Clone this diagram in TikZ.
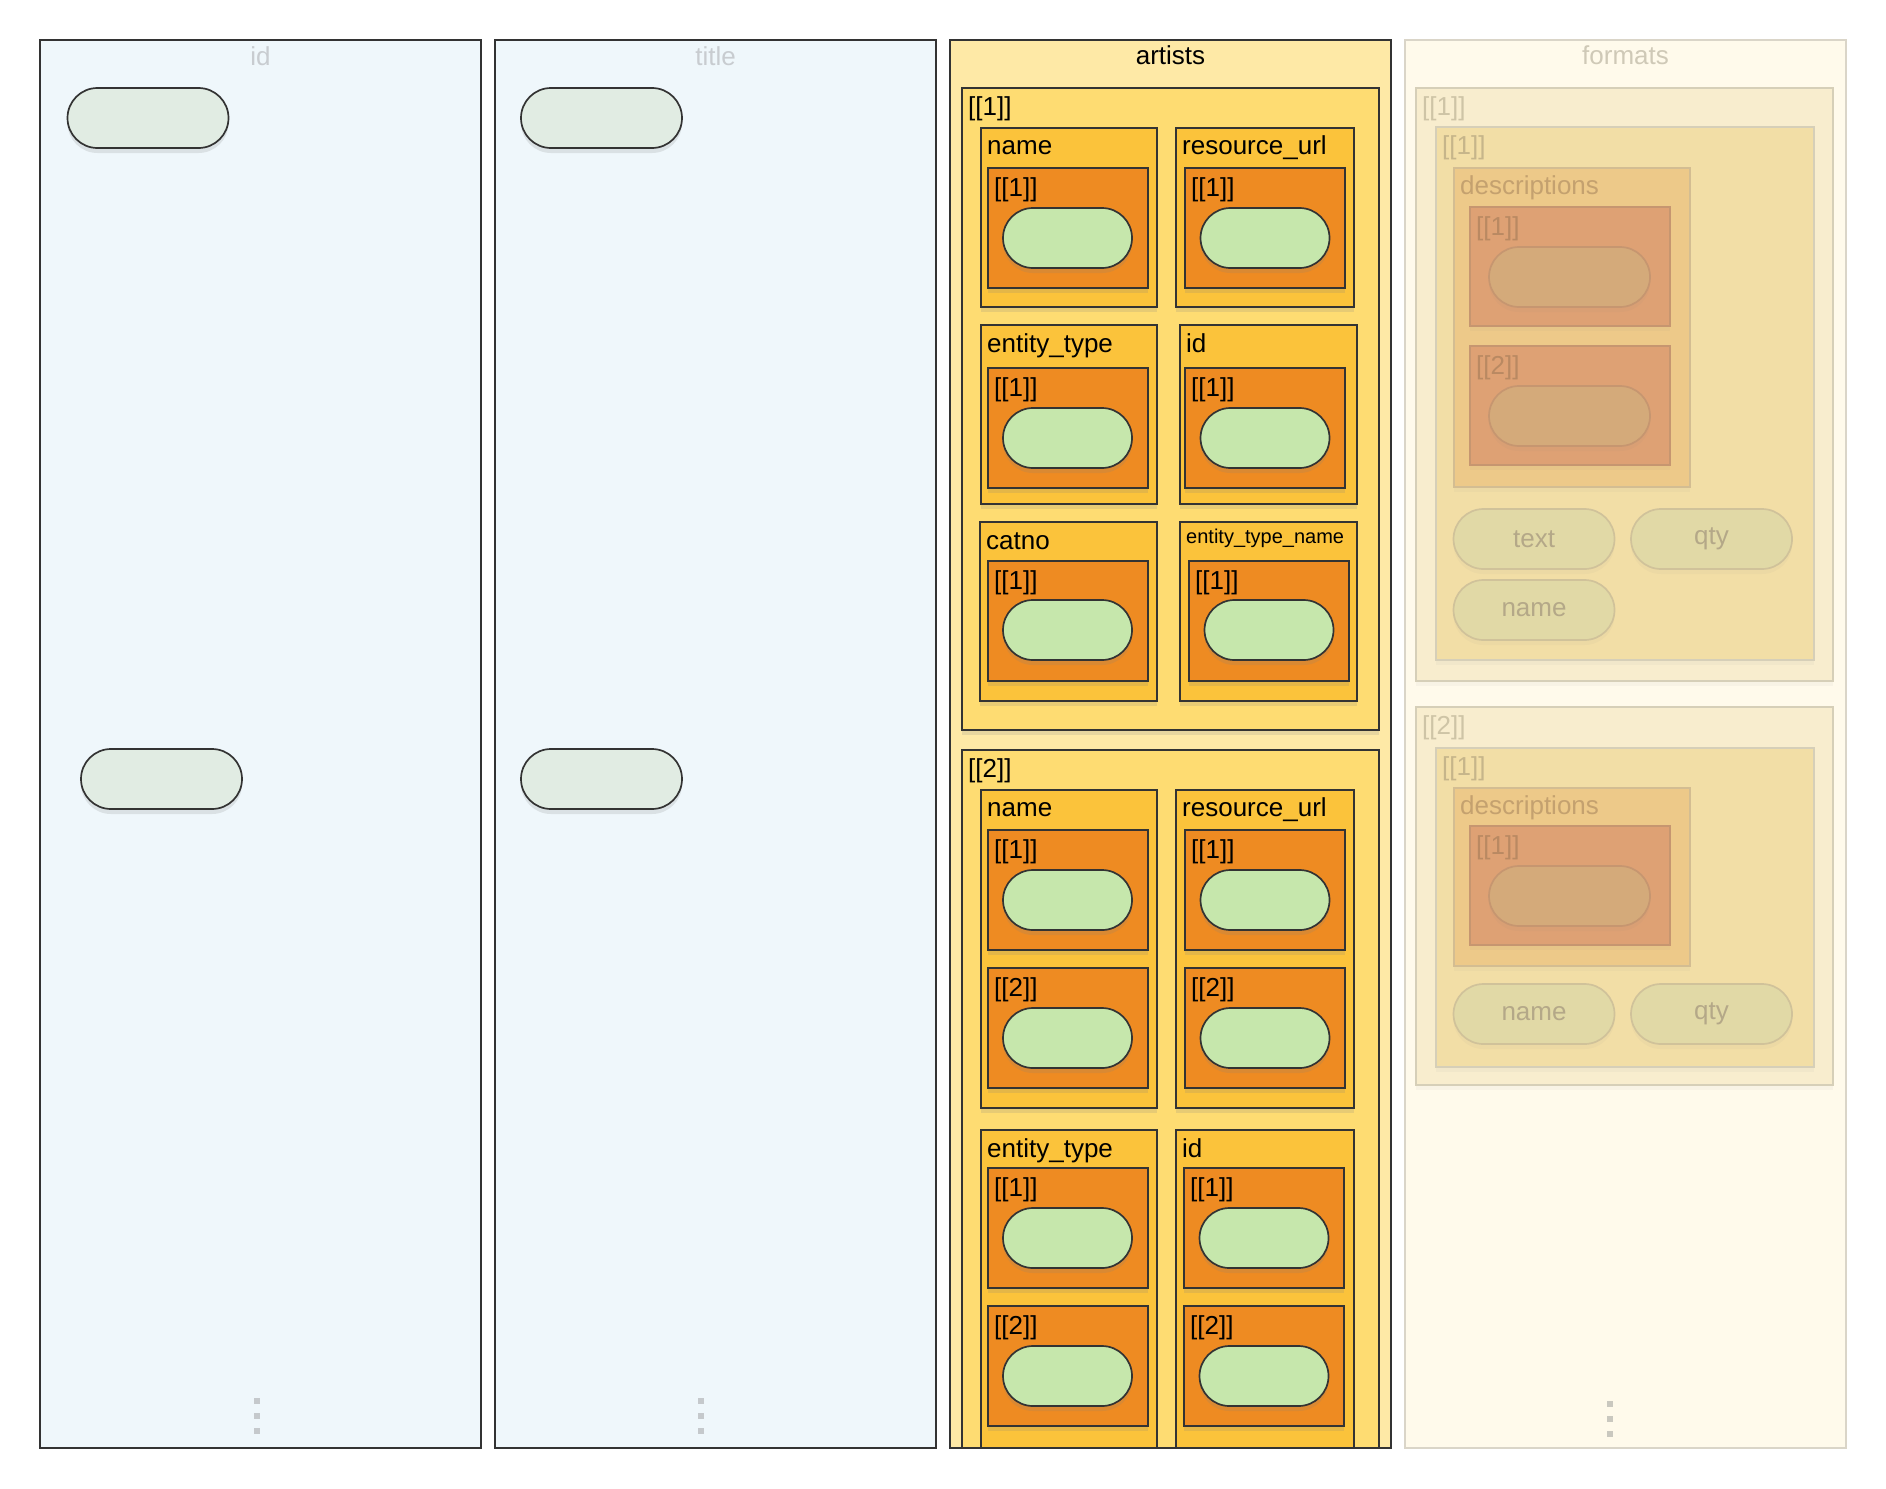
\documentclass[tikz,border=0pt]{standalone}
\usepackage{fontspec}
\setmainfont{Liberation Sans}
\usetikzlibrary{shapes.misc,shadows}

\definecolor{linec}{HTML}{333333}
\definecolor{idbg}{HTML}{EFF7FB}
\definecolor{idpill}{HTML}{E1ECE3}
\definecolor{idtxt}{HTML}{C8CCD0}
\definecolor{dotc}{HTML}{C5C9CC}
\definecolor{artbg}{HTML}{FEE9A6}
\definecolor{lst}{HTML}{FEDC72}
\definecolor{fld}{HTML}{FBC33B}
\definecolor{elt}{HTML}{EE8B22}
\definecolor{leaf}{HTML}{C6E7AC}
\definecolor{fmbg}{HTML}{FFFAEB}
\definecolor{fmline}{HTML}{DAD5C8}
\definecolor{fmlst}{HTML}{F8EDCE}
\definecolor{fmlstb}{HTML}{F2DEA6}
\definecolor{fmfld}{HTML}{EDC989}
\definecolor{fmelt}{HTML}{DEA174}
\definecolor{fmleaf}{HTML}{D4AA7A}
\definecolor{fmpill}{HTML}{E1D9A6}
\definecolor{fmba}{HTML}{D6CFB8}
\definecolor{fmbb}{HTML}{D3BD92}
\definecolor{fmbc}{HTML}{C69670}
\definecolor{fmbd}{HTML}{D0C29A}
\definecolor{fmta}{HTML}{CFC9B7}
\definecolor{fmtb}{HTML}{CEC4A6}
\definecolor{fmtc}{HTML}{C6B58A}
\definecolor{fmtd}{HTML}{C4A16F}
\definecolor{fmte}{HTML}{B98962}
\definecolor{fmtf}{HTML}{B4A888}
\definecolor{fmdot}{HTML}{CAC8BF}

\begin{document}
\begin{tikzpicture}[x=1pt,y=-1pt,
  col/.style={draw=linec,line width=1.4pt},
  bx/.style={draw=linec,line width=1.7pt},
  shd/.style={drop shadow={shadow xshift=0pt,shadow yshift=-5pt,opacity=.18}},
  shf/.style={drop shadow={shadow xshift=0pt,shadow yshift=-5pt,opacity=.05}},
  pill/.style={rounded rectangle,draw=linec,line width=1.7pt,minimum width=161pt,minimum height=60pt,inner sep=0pt,font=\fontsize{26}{30}\selectfont},
  lab/.style={anchor=base west,inner sep=0pt,font=\fontsize{26}{30}\selectfont},
  labs/.style={anchor=base west,inner sep=0pt,font=\fontsize{20}{24}\selectfont},
  ttl/.style={anchor=base,inner sep=0pt,font=\fontsize{26}{30}\selectfont},
  dotbox/.style={fill=dotc,minimum size=6pt,inner sep=0pt}]
\useasboundingbox (0,0) rectangle (1886,1488);

\coordinate (C1a) at (40,40);
\coordinate (C1b) at (481,1448);
\coordinate (C2a) at (495,40);
\coordinate (C2b) at (936,1448);
\coordinate (C3a) at (950,40);
\coordinate (C3b) at (1391,1448);
\coordinate (C4a) at (1405,40);
\coordinate (C4b) at (1846,1448);

\draw[col,fill=idbg] (C1a) rectangle (C1b);
\node[ttl,text=idtxt] (t1) at (260.5,66) {id};
\node[pill,fill=idpill,shd] (p1) at (148,118) {};
\node[pill,fill=idpill,shd] (p2) at (161.5,779) {};
\node[dotbox] (d1) at (257,1401) {};
\node[dotbox] (d2) at (257,1416) {};
\node[dotbox] (d3) at (257,1431) {};

\draw[col,fill=idbg] (C2a) rectangle (C2b);
\node[ttl,text=idtxt] (t2) at (715.5,66) {title};
\node[pill,fill=idpill,shd] (p3) at (601.5,118) {};
\node[pill,fill=idpill,shd] (p4) at (601.5,779) {};
\node[dotbox] (d4) at (701,1401) {};
\node[dotbox] (d5) at (701,1416) {};
\node[dotbox] (d6) at (701,1431) {};

\fill[artbg] (C3a) rectangle (C3b);
\node[ttl] (t3) at (1170.5,65) {artists};
\begin{scope}
\clip (C3a) rectangle (C3b);
\draw[bx,fill=lst,shd] (962,88) rectangle (1379,730);
\node[lab] (a1) at (968,115) {[[1]]};
\draw[bx,fill=fld,shd] (981,128) rectangle (1157,307);
\node[lab] (a1n) at (987,154) {name};
\draw[bx,fill=elt,shd] (988,168) rectangle (1148,288);
\node[lab] (a1n1) at (994,196) {[[1]]};
\node[pill,minimum width=129pt,fill=leaf,shd] (a1n1v) at (1067.5,238) {};
\draw[bx,fill=fld,shd] (1176,128) rectangle (1354,307);
\node[lab] (a1r) at (1182,154) {resource\_url};
\draw[bx,fill=elt,shd] (1185,168) rectangle (1345,288);
\node[lab] (a1r1) at (1191,196) {[[1]]};
\node[pill,minimum width=129pt,fill=leaf,shd] (a1r1v) at (1265,238) {};
\draw[bx,fill=fld,shd] (981,325) rectangle (1157,504);
\node[lab] (a1e) at (987,352) {entity\_type};
\draw[bx,fill=elt,shd] (988,368) rectangle (1148,488);
\node[lab] (a1e1) at (994,396) {[[1]]};
\node[pill,minimum width=129pt,fill=leaf,shd] (a1e1v) at (1067.5,438) {};
\draw[bx,fill=fld,shd] (1180,325) rectangle (1357,504);
\node[lab] (a1i) at (1186,352) {id};
\draw[bx,fill=elt,shd] (1185,368) rectangle (1345,488);
\node[lab] (a1i1) at (1191,396) {[[1]]};
\node[pill,minimum width=129pt,fill=leaf,shd] (a1i1v) at (1265,438) {};
\draw[bx,fill=fld,shd] (980,522) rectangle (1157,701);
\node[lab] (a1c) at (986,549) {catno};
\draw[bx,fill=elt,shd] (988,561) rectangle (1148,681);
\node[lab] (a1c1) at (994,589) {[[1]]};
\node[pill,minimum width=129pt,fill=leaf,shd] (a1c1v) at (1067.5,630) {};
\draw[bx,fill=fld,shd] (1180,522) rectangle (1357,701);
\node[labs] (a1t) at (1186,543) {entity\_type\_name};
\draw[bx,fill=elt,shd] (1189,561) rectangle (1349,681);
\node[lab] (a1t1) at (1195,589) {[[1]]};
\node[pill,minimum width=129pt,fill=leaf,shd] (a1t1v) at (1269,630) {};

\draw[bx,fill=lst,shd] (962,750) rectangle (1379,1520);
\node[lab] (a2) at (968,777) {[[2]]};
\draw[bx,fill=fld,shd] (981,790) rectangle (1157,1108);
\node[lab] (a2n) at (987,816) {name};
\draw[bx,fill=elt,shd] (988,830) rectangle (1148,950);
\node[lab] (a2n1) at (994,858) {[[1]]};
\node[pill,minimum width=129pt,fill=leaf,shd] (a2n1v) at (1067.5,900) {};
\draw[bx,fill=elt,shd] (988,968) rectangle (1148,1088);
\node[lab] (a2n2) at (994,996) {[[2]]};
\node[pill,minimum width=129pt,fill=leaf,shd] (a2n2v) at (1067.5,1038) {};
\draw[bx,fill=fld,shd] (1176,790) rectangle (1354,1108);
\node[lab] (a2r) at (1182,816) {resource\_url};
\draw[bx,fill=elt,shd] (1185,830) rectangle (1345,950);
\node[lab] (a2r1) at (1191,858) {[[1]]};
\node[pill,minimum width=129pt,fill=leaf,shd] (a2r1v) at (1265,900) {};
\draw[bx,fill=elt,shd] (1185,968) rectangle (1345,1088);
\node[lab] (a2r2) at (1191,996) {[[2]]};
\node[pill,minimum width=129pt,fill=leaf,shd] (a2r2v) at (1265,1038) {};
\draw[bx,fill=fld,shd] (981,1130) rectangle (1157,1500);
\node[lab] (a2e) at (987,1157) {entity\_type};
\draw[bx,fill=elt,shd] (988,1168) rectangle (1148,1288);
\node[lab] (a2e1) at (994,1196) {[[1]]};
\node[pill,minimum width=129pt,fill=leaf,shd] (a2e1v) at (1067.5,1238) {};
\draw[bx,fill=elt,shd] (988,1306) rectangle (1148,1426);
\node[lab] (a2e2) at (994,1334) {[[2]]};
\node[pill,minimum width=129pt,fill=leaf,shd] (a2e2v) at (1067.5,1376) {};
\draw[bx,fill=fld,shd] (1176,1130) rectangle (1354,1500);
\node[lab] (a2i) at (1182,1157) {id};
\draw[bx,fill=elt,shd] (1184,1168) rectangle (1344,1288);
\node[lab] (a2i1) at (1190,1196) {[[1]]};
\node[pill,minimum width=129pt,fill=leaf,shd] (a2i1v) at (1264,1238) {};
\draw[bx,fill=elt,shd] (1184,1306) rectangle (1344,1426);
\node[lab] (a2i2) at (1190,1334) {[[2]]};
\node[pill,minimum width=129pt,fill=leaf,shd] (a2i2v) at (1264,1376) {};
\end{scope}
\draw[col] (C3a) rectangle (C3b);

\draw[col,draw=fmline,fill=fmbg] (C4a) rectangle (C4b);
\node[ttl,text=fmta] (t4) at (1625.5,65) {formats};
\draw[bx,draw=fmba,fill=fmlst,shf] (1416,88) rectangle (1833,681);
\node[lab,text=fmtb] (f1) at (1422,115) {[[1]]};
\draw[bx,draw=fmba,fill=fmlstb,shf] (1436,127) rectangle (1814,660);
\node[lab,text=fmtc] (f11) at (1442,154) {[[1]]};
\draw[bx,draw=fmbb,fill=fmfld,shf] (1454,168) rectangle (1690,487);
\node[lab,text=fmtd] (f11d) at (1460,194) {descriptions};
\draw[bx,draw=fmbc,fill=fmelt,shf] (1470,207) rectangle (1670,326);
\node[lab,text=fmte] (f11d1) at (1476,235) {[[1]]};
\node[pill,draw=fmbc,fill=fmleaf,shf] (f11d1v) at (1569.5,277) {};
\draw[bx,draw=fmbc,fill=fmelt,shf] (1470,346) rectangle (1670,465);
\node[lab,text=fmte] (f11d2) at (1476,374) {[[2]]};
\node[pill,draw=fmbc,fill=fmleaf,shf] (f11d2v) at (1569.5,416) {};
\node[pill,draw=fmbd,fill=fmpill,text=fmtf,shf] (f11t) at (1534,539) {text};
\node[pill,draw=fmbd,fill=fmpill,text=fmtf,shf] (f11q) at (1711.5,539) {qty};
\node[pill,draw=fmbd,fill=fmpill,text=fmtf,shf] (f11n) at (1534,610) {name};

\draw[bx,draw=fmba,fill=fmlst,shf] (1416,707) rectangle (1833,1085);
\node[lab,text=fmtb] (f2) at (1422,734) {[[2]]};
\draw[bx,draw=fmba,fill=fmlstb,shf] (1436,748) rectangle (1814,1067);
\node[lab,text=fmtc] (f21) at (1442,775) {[[1]]};
\draw[bx,draw=fmbb,fill=fmfld,shf] (1454,788) rectangle (1690,966);
\node[lab,text=fmtd] (f21d) at (1460,814) {descriptions};
\draw[bx,draw=fmbc,fill=fmelt,shf] (1470,826) rectangle (1670,945);
\node[lab,text=fmte] (f21d1) at (1476,854) {[[1]]};
\node[pill,draw=fmbc,fill=fmleaf,shf] (f21d1v) at (1569.5,896) {};
\node[pill,draw=fmbd,fill=fmpill,text=fmtf,shf] (f21n) at (1534,1014) {name};
\node[pill,draw=fmbd,fill=fmpill,text=fmtf,shf] (f21q) at (1711.5,1014) {qty};
\node[dotbox,fill=fmdot] (d7) at (1610,1404) {};
\node[dotbox,fill=fmdot] (d8) at (1610,1419) {};
\node[dotbox,fill=fmdot] (d9) at (1610,1434) {};

\end{tikzpicture}
\end{document}
